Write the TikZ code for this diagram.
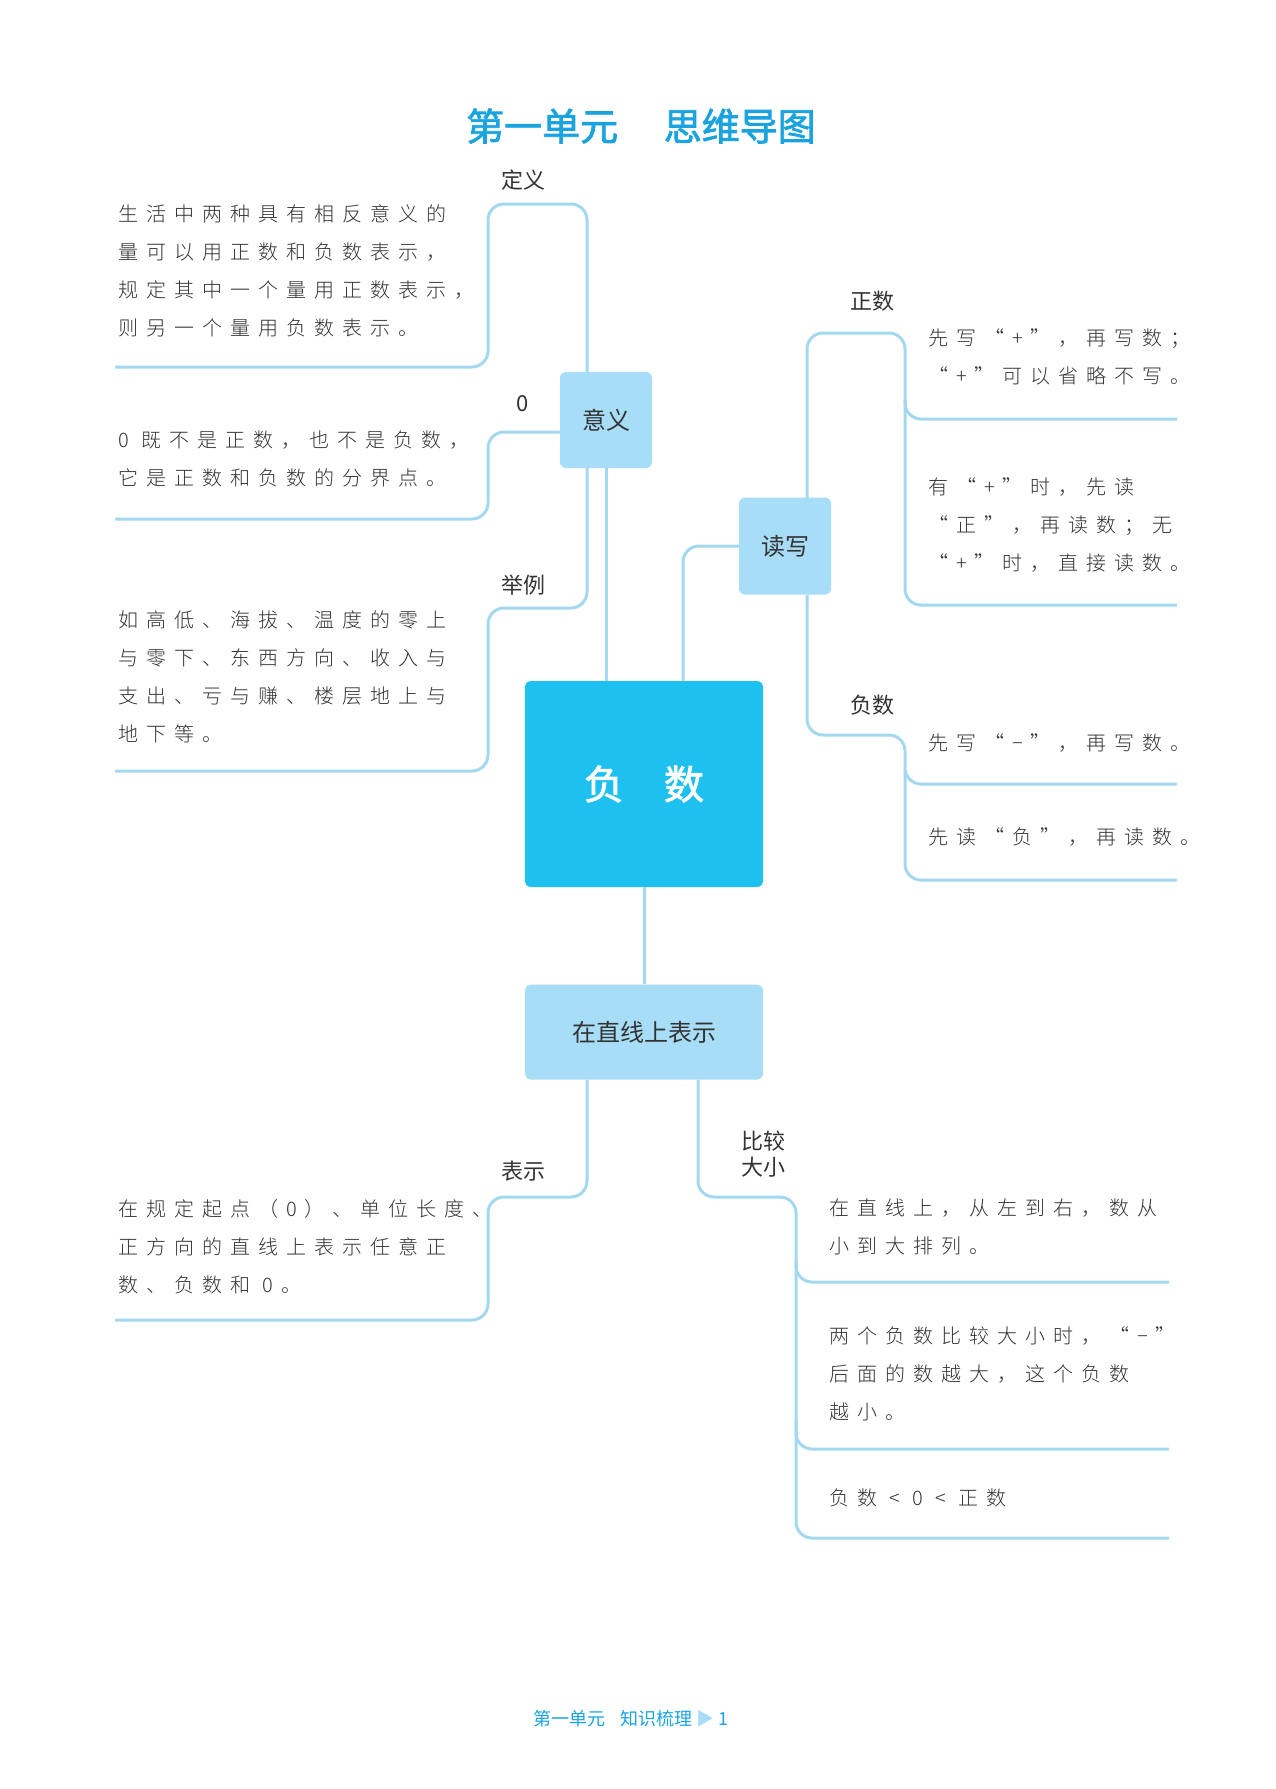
\documentclass[tikz,border=0pt]{standalone}
\usepackage{fontspec}
\newfontfamily\cjk{Noto Sans CJK SC}
\newfontfamily\cjkb[FakeBold=2]{Noto Sans CJK SC}
\newfontfamily\song[LetterSpace=40]{Noto Sans CJK SC Light}
\definecolor{ln}{HTML}{A3D8EF}
\definecolor{lbox}{HTML}{A8DDF7}
\definecolor{cbox}{HTML}{1EC0EF}
\definecolor{ttl}{HTML}{1AA3DF}
\definecolor{txt}{HTML}{333333}
\tikzset{
 conn/.style={draw=ln,line width=3pt,rounded corners=16pt},
 sub/.style={fill=lbox,rounded corners=6pt,inner sep=0,text=txt,font=\cjk\fontsize{24}{28}\selectfont},
 lab/.style={text=txt,font=\cjk\fontsize{22}{26}\selectfont,align=center,inner sep=0},
 body/.style={anchor=north west,text=txt,font=\song\fontsize{20}{38}\selectfont,align=left,inner sep=0}
}
\begin{document}
\begin{tikzpicture}[x=1pt,y=-1pt]
\useasboundingbox (0,0) rectangle (1275,1789);
\node[text=ttl,font=\cjkb\fontsize{38}{42}\selectfont] (title) at (641,126) {第一单元\hspace{1.2em}思维导图};
% boxes
\node[fill=cbox,rounded corners=6pt,minimum width=238pt,minimum height=206pt,text=white,font=\cjkb\fontsize{40}{44}\selectfont] (fs) at (644,784) {负\hspace{1em}数};
\node[sub,minimum width=92pt,minimum height=96pt] (yy) at (606,420) {意义};
\node[sub,minimum width=92pt,minimum height=97pt] (dx) at (785,546) {读写};
\node[sub,minimum width=238pt,minimum height=95pt] (zx) at (644,1032) {在直线上表示};
% center connections
\draw[conn] (fs.north -| yy.south) -- (yy.south);
\draw[conn] (683,681) |- (dx.west);
\draw[conn] (fs.south) -- (zx.north);
% 意义 branches
\coordinate (a1) at (115,367);
\draw[conn] (587,372) |- (488,204) |- (a1);
\coordinate (a2) at (115,519);
\draw[conn] (yy.west |- 0,432) -| (488,519) -- (a2);
\coordinate (a3) at (115,771);
\draw[conn] (587,468) |- (488,608) |- (a3);
\node[lab] (l1) at (523,180) {定义};
\node[lab] (l2) at (523,404) {0};
\node[lab] (l3) at (523,585) {举例};
\node[body] (t1) at (118,204) {生活中两种具有相反意义的\\量可以用正数和负数表示，\\规定其中一个量用正数表示，\\则另一个量用负数表示。};
\node[body] (t2) at (118,431) {0 既不是正数，也不是负数，\\它是正数和负数的分界点。};
\node[body] (t3) at (118,610) {如高低、海拔、温度的零上\\与零下、东西方向、收入与\\支出、亏与赚、楼层地上与\\地下等。};
% 读写 branches
\coordinate (b1) at (1177,419);
\coordinate (b2) at (1177,605);
\draw[conn] (807,498) |- (905,333) |- (b1);
\draw[conn] (905,400) |- (b2);
\coordinate (b3) at (1177,784);
\coordinate (b4) at (1177,880);
\draw[conn] (807,595) |- (905,735) |- (b3);
\draw[conn] (905,770) |- (b4);
\node[lab] (l4) at (872,301) {正数};
\node[lab] (l5) at (872,705) {负数};
\node[body] (t4) at (928,329) {先写“+”，再写数；\\“+”可以省略不写。};
\node[body] (t5) at (928,478) {有“+”时，先读\\“正”，再读数；无\\“+”时，直接读数。};
\node[body] (t6) at (928,734) {先写“−”，再写数。};
\node[body] (t7) at (928,828) {先读“负”，再读数。};
% 在直线上表示 branches
\coordinate (c1) at (115,1320);
\draw[conn] (587,1080) |- (488,1197) |- (c1);
\coordinate (c2) at (1169,1282);
\coordinate (c3) at (1169,1449);
\coordinate (c4) at (1169,1538);
\draw[conn] (698,1080) |- (796,1197) |- (c2);
\draw[conn] (796,1260) |- (c3);
\draw[conn] (796,1420) |- (c4);
\node[lab] (l6) at (523,1171) {表示};
\node[lab] (l7) at (763,1154) {比较\\大小};
\node[body] (t8) at (118,1199) {在规定起点（0）、单位长度、\\正方向的直线上表示任意正\\数、负数和 0。};
\node[body] (t9) at (829,1199) {在直线上，从左到右，数从\\小到大排列。};
\node[body] (t10) at (829,1327) {两个负数比较大小时，“−”\\后面的数越大，这个负数\\越小。};
\node[body] (t11) at (829,1489) {负数 < 0 < 正数};
\node[text=ttl,font=\cjk\fontsize{18}{22}\selectfont] (foot) at (631,1719) {第一单元\hspace{0.8em}知识梳理 {\color{lbox}▶} 1};
\end{tikzpicture}
\end{document}
